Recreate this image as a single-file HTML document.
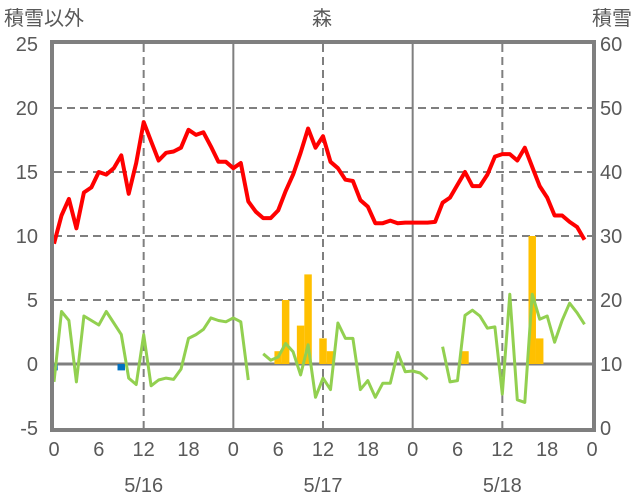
<!DOCTYPE html>
<html><head><meta charset="utf-8"><style>
body{margin:0;background:#fff;}
svg{display:block;font-family:"Liberation Sans","Noto Sans CJK JP",sans-serif;}
text{fill:#595959;font-size:20px;}
</style></head><body>
<svg id="chart" width="636" height="501" viewBox="0 0 636 501">
<text x="4" y="25" font-size="20">積雪以外</text>
<text x="322" y="25" text-anchor="middle">森</text>
<text x="632" y="25" text-anchor="end">積雪</text>
<g id="grid"></g>
<g id="bars"></g>
<g id="lines"></g>
<g id="axes"></g>
</svg>
<script>
const hours=[];for(let i=0;i<72;i++)hours.push(i);
const temp=[9.4,11.6,12.9,10.6,13.4,13.8,15.0,14.8,15.3,16.3,13.3,15.7,18.9,17.4,15.9,16.5,16.6,16.9,18.3,17.9,18.1,17.0,15.8,15.8,15.3,15.7,12.7,11.9,11.4,11.4,12.0,13.5,14.8,16.5,18.4,16.9,17.8,15.8,15.3,14.4,14.3,12.8,12.3,11.0,11.0,11.2,11.0,11.05,11.05,11.05,11.05,11.1,12.6,13.0,14.0,15.0,13.9,13.9,14.8,16.2,16.4,16.4,15.9,16.9,15.4,13.9,13.0,11.6,11.6,11.1,10.7,9.7];
const green=[-1.4,4.1,3.4,-1.4,3.75,3.4,3.05,4.1,3.2,2.3,-1.1,-1.6,2.3,-1.7,-1.25,-1.1,-1.2,-0.4,2.0,2.3,2.7,3.6,3.4,3.3,3.6,3.3,-1.25,null,0.8,0.3,0.55,1.6,0.95,-0.85,1.5,-2.6,-1.1,-2.0,3.2,2.0,2.0,-2.0,-1.3,-2.6,-1.5,-1.5,0.9,-0.6,-0.55,-0.7,-1.2,null,1.35,-1.4,-1.3,3.8,4.2,3.75,2.8,2.9,-2.35,5.45,-2.8,-3.0,5.45,3.5,3.75,1.7,3.4,4.75,4.0,3.1];
const orangeHours=[30,31,33,34,36,37,55,64,65];
const orangeVals=[1,5,3,7,2,1,1,10,2];
const blueHours=[0,9];
const blueVals=[-0.5,-0.5];
const leftTicks=[-5,0,5,10,15,20,25];
const rightTicks=[0,10,20,30,40,50,60];
const xTickHours=[0,6,12,18,24,30,36,42,48,54,60,66,72];
const xTickLabels=["0","6","12","18","0","6","12","18","0","6","12","18","0"];
const dateHours=[12,36,60];
const dateLabels=["5/16","5/17","5/18"];
const X0=54,X1=592,YT=44,YB=428;
const x=h=>X0+h*(X1-X0)/72;
const y=v=>YB-(v+5)*(YB-YT)/30;
const yr=v=>YB-v*(YB-YT)/60;
const NS="http://www.w3.org/2000/svg";
function mk(tag,attrs,parent){const e=document.createElementNS(NS,tag);for(const k in attrs)e.setAttribute(k,attrs[k]);document.getElementById(parent).appendChild(e);return e;}
// grid
[5,10,15,20].forEach(v=>{const e=mk('line',{x1:X0,x2:X1,y1:y(v),y2:y(v),stroke:'#7f7f7f','stroke-width':2,'stroke-dasharray':'8,5'},'grid');

});
[12,36,60].forEach(h=>{const e=mk('line',{x1:x(h),x2:x(h),y1:YT,y2:YB,stroke:'#7f7f7f','stroke-width':2,'stroke-dasharray':'8,5'},'grid');

});
[24,48].forEach(h=>{const e=mk('line',{x1:x(h),x2:x(h),y1:YT,y2:YB,stroke:'#7f7f7f','stroke-width':2},'grid');

});
const bw=(X1-X0)/72;
orangeHours.forEach((h,i)=>{const v=orangeVals[i];const e=mk('rect',{x:x(h)-bw/2,y:y(v),width:bw,height:y(0)-y(v),fill:'#ffc000'},'bars');

});
blueHours.forEach((h,i)=>{const v=blueVals[i];const e=mk('rect',{x:Math.max(X0,x(h)-bw/2),y:y(0),width:h===0?bw/2:bw,height:y(v)-y(0),fill:'#0070c0'},'bars');

});
// zero line
const z=mk('line',{x1:X0,x2:X1,y1:y(0),y2:y(0),stroke:'#7f7f7f','stroke-width':3},'grid');


// green segments
let segs=[],cur=[];
green.forEach((v,i)=>{if(v===null){if(cur.length)segs.push(cur);cur=[];}else cur.push(x(hours[i]).toFixed(1)+','+y(v).toFixed(1));});
if(cur.length)segs.push(cur);
segs.forEach(s=>{const e=mk('polyline',{points:s.join(' '),fill:'none',stroke:'#92d050','stroke-width':3,'stroke-linejoin':'round'},'lines');

});
const t=mk('polyline',{points:temp.map((v,i)=>x(hours[i]).toFixed(1)+','+y(v).toFixed(1)).join(' '),fill:'none',stroke:'#ff0000','stroke-width':4,'stroke-linejoin':'round'},'lines');


// border
const b=mk('rect',{x:X0-2,y:YT-2,width:X1-X0+4,height:YB-YT+4,fill:'none',stroke:'#7f7f7f','stroke-width':4},'axes');


leftTicks.forEach(v=>{const e=mk('text',{x:38,y:y(v)+7,'text-anchor':'end'},'axes');e.textContent=v;

});
rightTicks.forEach(v=>{const e=mk('text',{x:600,y:yr(v)+7},'axes');e.textContent=v;

});
xTickHours.forEach((h,i)=>{const e=mk('text',{x:x(h),y:456,'text-anchor':'middle'},'axes');e.textContent=xTickLabels[i];

});
dateHours.forEach((h,i)=>{const e=mk('text',{x:x(h),y:492,'text-anchor':'middle'},'axes');e.textContent=dateLabels[i];

});
</script>
</body></html>
